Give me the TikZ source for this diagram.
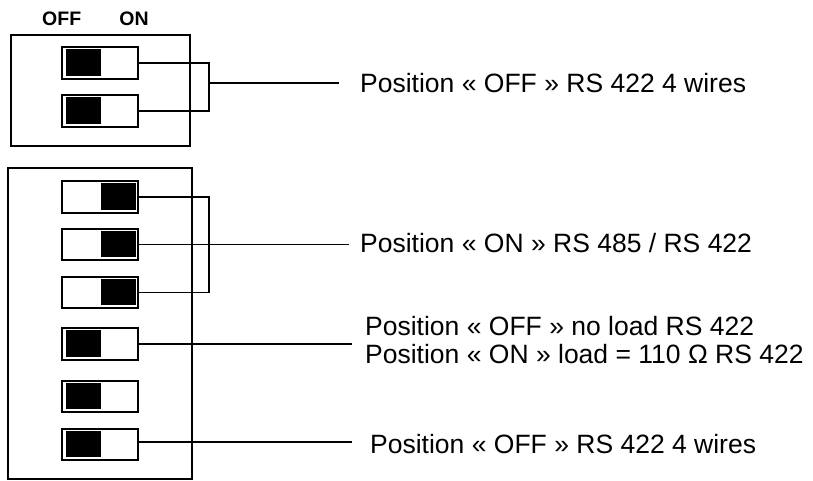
\documentclass[tikz,border=0pt]{standalone}
\usepackage{fontspec}
\setmainfont{Liberation Sans}
\usetikzlibrary{calc}
\tikzset{
  swbox/.style={draw, line width=2pt, minimum width=76pt, minimum height=31.5pt, inner sep=0pt, outer sep=0pt},
  housing/.style={draw, line width=2pt, inner sep=0pt, outer sep=0pt},
  wire/.style={line width=1.5pt},
  lbl/.style={anchor=base west, inner sep=0pt, font=\fontsize{26.5}{28}\selectfont},
  hdr/.style={anchor=base, inner sep=0pt, font=\fontsize{19.5}{21}\selectfont\bfseries},
}
\newcommand{\knoboff}[1]{\fill ($(#1.north west)+(4,2)$) rectangle ($(#1.north west)+(39,28.5)$);}
\newcommand{\knobon}[1]{\fill ($(#1.north west)+(39,2)$) rectangle ($(#1.north west)+(74,28.5)$);}
\begin{document}
\begin{tikzpicture}[x=1pt,y=-1pt]
\useasboundingbox (0,0) rectangle (813,480);
% headers
\node[hdr] (hoff) at (61.7,25) {OFF};
\node[hdr] (hon) at (134,25) {ON};
% housings
\node[housing, minimum width=178.5pt, minimum height=111pt] (top) at (100.25,90) {};
\node[housing, minimum width=183.7pt, minimum height=310.7pt] (bot) at (100.15,323.65) {};
% switches
\node[swbox] (s1) at (100.25,63) {};
\node[swbox] (s2) at (100.25,110.75) {};
\node[swbox] (s3) at (100,197) {};
\node[swbox] (s4) at (100,244.5) {};
\node[swbox] (s5) at (100,292.5) {};
\node[swbox] (s6) at (100,344) {};
\node[swbox] (s7) at (100,396.5) {};
\node[swbox] (s8) at (100,444.5) {};
\knoboff{s1}\knoboff{s2}
\knobon{s3}\knobon{s4}\knobon{s5}
\knoboff{s6}\knoboff{s7}\knoboff{s8}
% connector points
\coordinate (j1) at (209,83);
\coordinate (e1) at (339,83);
\coordinate (j2) at (209,244.5);
\coordinate (e2) at (349,244.5);
\coordinate (e3) at (352,344);
\coordinate (e4) at (352,442);
% wires
\draw[wire] (s1.east) -| (j1) |- (s2.east);
\draw[wire] (j1) -- (e1);
\draw[wire] (s3.east) -| (j2) |- (s5.east);
\draw[wire] (s4.east) -- (e2);
\draw[wire] (s6.east) -- (e3);
\draw[wire] (e4 -| s8.east) -- (e4);
% labels
\node[lbl] (t1) at (360,92) {Position « OFF » RS 422 4 wires};
\node[lbl] (t2) at (360,252) {Position « ON » RS 485 / RS 422};
\node[lbl] (t3) at (365,335) {Position « OFF » no load RS 422};
\node[lbl] (t4) at (365,363) {Position « ON » load = 110 Ω RS 422};
\node[lbl] (t5) at (370,453) {Position « OFF » RS 422 4 wires};
\end{tikzpicture}
\end{document}
